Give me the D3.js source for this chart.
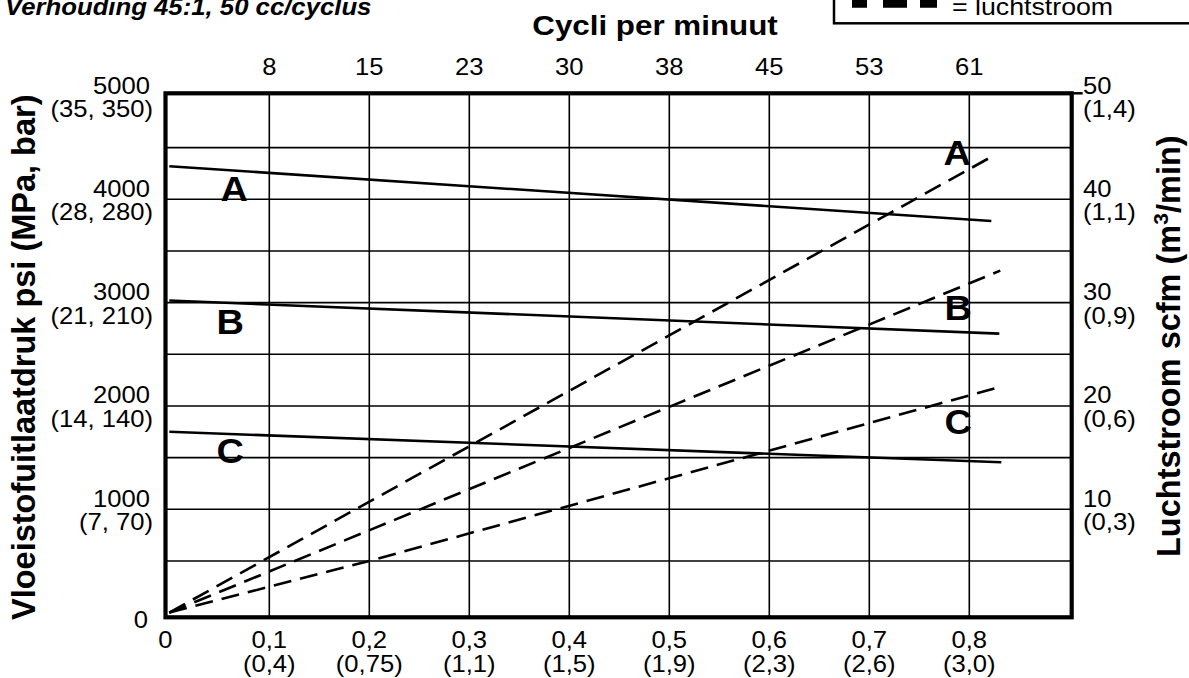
<!DOCTYPE html>
<html><head><meta charset="utf-8">
<script src="https://cdn.jsdelivr.net/npm/d3@7"></script>
<style>body{margin:0;background:#fff}svg{display:block}text{font-family:"Liberation Sans",Arial,Helvetica,sans-serif;fill:#000}</style>
</head><body>
<script>
// ---- data ----
const flowTicks = [0.1, 0.2, 0.3, 0.4, 0.5, 0.6, 0.7, 0.8];
const flowLabels = ["0,1", "0,2", "0,3", "0,4", "0,5", "0,6", "0,7", "0,8"];
const flowLpmLabels = ["(0,4)", "(0,75)", "(1,1)", "(1,5)", "(1,9)", "(2,3)", "(2,6)", "(3,0)"];
const cycleLabels = ["8", "15", "23", "30", "38", "45", "53", "61"];
const psiTicks = [1000, 2000, 3000, 4000, 5000];
const mpaBarLabels = ["(7, 70)", "(14, 140)", "(21, 210)", "(28, 280)", "(35, 350)"];
const scfmTicks = [10, 20, 30, 40, 50];
const m3Labels = ["(0,3)", "(0,6)", "(0,9)", "(1,1)", "(1,4)"];
const psiGrid = [500, 1000, 1500, 2000, 2500, 3000, 3500, 4000, 4500];

// fluid outlet pressure (psi) vs fluid flow (gpm)
const pressureA = [[0, 4320], [0.822, 3790]];
const pressureB = [[0, 3020], [0.83, 2700]];
const pressureC = [[0, 1750], [0.832, 1455]];
// air consumption (scfm) vs fluid flow (gpm)
const airA = [[0, 0], [0.82, 44.0]];
const airB = [[0, 0], [0.831, 33.1]];
const airC = [[0, 0], [0.2, 5.0], [0.833, 21.9]];

const curveLabels = [
  {k: "A", f: 0.065, p: 3986}, {k: "B", f: 0.061, p: 2693}, {k: "C", f: 0.061, p: 1448},
  {k: "A", f: 0.788, p: 4332}, {k: "B", f: 0.789, p: 2832}, {k: "C", f: 0.789, p: 1733}
];

// ---- chart ----
const W = 1189, H = 678;
const svg = d3.select("body").append("svg").attr("width", W).attr("height", H);

const x = d3.scaleLinear([0, 0.9], [169.3, 1069.3]);
const yP = d3.scaleLinear([0, 5000], [612.6, 96]);
const yA = d3.scaleLinear([0, 50], [612.6, 96]);

const SX = 1.1;
function txt(parent, px, py, s, o) {
  const g = parent.append("g").attr("transform", `translate(${px},${py}) scale(${o.sx || SX},1)`);
  return g.append("text").attr("text-anchor", o.anchor || "start")
    .attr("font-size", o.size).attr("font-weight", o.weight || "normal")
    .attr("font-style", o.style || "normal").text(s);
}

const fL = x(0) - 3.8, fR = x(0.9) + 2.4, fT = yP(5000) - 2.7, fB = yP(0) + 4.7;

// grid
svg.append("g").selectAll("line").data(psiGrid).join("line")
  .attr("x1", fL).attr("x2", fR).attr("y1", d => yP(d)).attr("y2", d => yP(d))
  .attr("stroke", "#000").attr("stroke-width", 1.6);
svg.append("g").selectAll("line").data(flowTicks).join("line")
  .attr("x1", d => x(d)).attr("x2", d => x(d)).attr("y1", fT).attr("y2", fB)
  .attr("stroke", "#000").attr("stroke-width", 1.6);

// data lines
const lineP = d3.line().x(d => x(d[0])).y(d => yP(d[1]));
const lineA = d3.line().x(d => x(d[0])).y(d => yA(d[1]));
[pressureA, pressureB, pressureC].forEach(s =>
  svg.append("path").attr("d", lineP(s)).attr("fill", "none").attr("stroke", "#000").attr("stroke-width", 2.6));
[airA, airB, airC].forEach(s =>
  svg.append("path").attr("d", lineA(s)).attr("fill", "none").attr("stroke", "#000")
    .attr("stroke-width", 2.6).attr("stroke-dasharray", "18,9"));

// frame
svg.append("rect").attr("x", fL).attr("y", fT).attr("width", fR - fL).attr("height", fB - fT)
  .attr("fill", "none").attr("stroke", "#000").attr("stroke-width", 4.2);
svg.append("line").attr("x1", fR).attr("x2", fR + 11).attr("y1", fT).attr("y2", fT)
  .attr("stroke", "#000").attr("stroke-width", 2.5);

// curve letters
curveLabels.forEach(d => txt(svg, x(d.f), yP(d.p), d.k, {size: 34.5, weight: "bold", anchor: "middle"}));

// bottom axis labels
flowTicks.forEach((v, i) => {
  txt(svg, x(v), 648, flowLabels[i], {size: 23.3, anchor: "middle"});
  txt(svg, x(v), 672, flowLpmLabels[i], {size: 23.3, anchor: "middle"});
});
txt(svg, x(0) - 4, 648, "0", {size: 23.3, anchor: "middle"});

// top axis labels
flowTicks.forEach((v, i) => txt(svg, x(v), 75, cycleLabels[i], {size: 23.3, anchor: "middle"}));
txt(svg, 655, 35, "Cycli per minuut", {size: 28.5, weight: "bold", anchor: "middle"});

// left axis labels
psiTicks.forEach((v, i) => {
  txt(svg, 150, yP(v) - 2.5, String(v), {size: 23.3, anchor: "end"});
  txt(svg, 153, yP(v) + 21, mpaBarLabels[i], {size: 23.3, anchor: "end"});
});
txt(svg, 141, 628, "0", {size: 23.3, anchor: "middle"});

// right axis labels
scfmTicks.forEach((v, i) => {
  txt(svg, 1083, yA(v) - 2.5, String(v), {size: 23.3});
  txt(svg, 1083, yA(v) + 21, m3Labels[i], {size: 23.3});
});

// axis titles (rotated)
svg.append("g").attr("transform", "translate(35,620) rotate(-90)")
  .append("text").attr("font-size", 32.5).attr("font-weight", "bold")
  .text("Vloeistofuitlaatdruk psi (MPa, bar)");
const rt = svg.append("g").attr("transform", "translate(1180,557) rotate(-90)")
  .append("text").attr("font-size", 32.5).attr("font-weight", "bold");
rt.append("tspan").text("Luchtstroom scfm (m");
rt.append("tspan").attr("font-size", 21).attr("dy", -12).text("3");
rt.append("tspan").attr("dy", 12).text("/min)");

// title
txt(svg, 5, 15, "Verhouding 45:1, 50 cc/cyclus", {size: 23.4, weight: "bold", style: "italic"});

// legend (partially visible)
svg.append("rect").attr("x", 834).attr("y", -60).attr("width", 400).attr("height", 83.3)
  .attr("fill", "none").attr("stroke", "#000").attr("stroke-width", 2.5);
svg.append("line").attr("x1", 852).attr("x2", 937).attr("y1", 2.5).attr("y2", 2.5)
  .attr("stroke", "#000").attr("stroke-width", 10.5).attr("stroke-dasharray", "15 16 24 13 17 100");
txt(svg, 952, 15, "= luchtstroom", {size: 24.3});
</script>
</body></html>
